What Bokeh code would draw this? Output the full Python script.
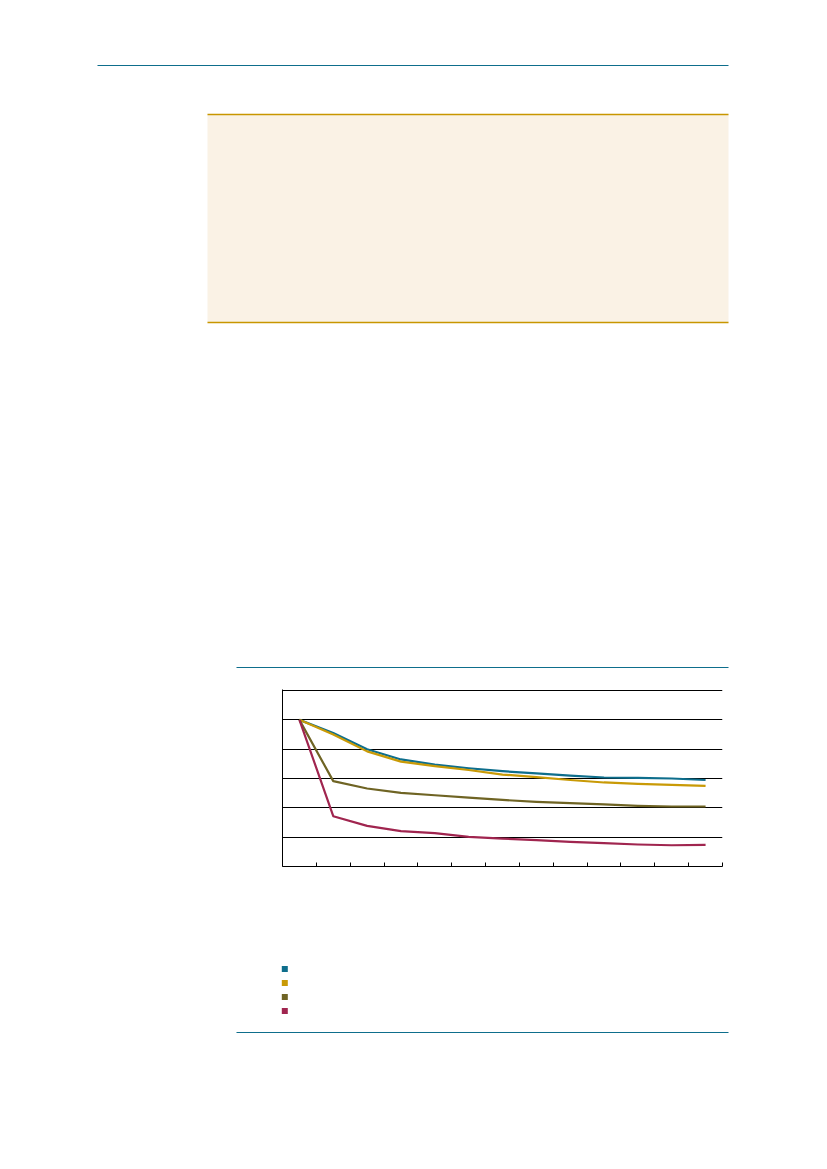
from bokeh.plotting import figure
from bokeh.layouts import column, row
from bokeh.models import Range1d, FixedTicker, CustomJSTickFormatter
from bokeh.embed import file_html
from bokeh.resources import INLINE

# ---------------- data ----------------
periods = list(range(1, 14))
series_names = ["Series A", "Series B", "Series C", "Series D"]
series_colors = ["#0E6E8C", "#C99A06", "#6F6424", "#A0254F"]
series_a = [100, 91, 80, 73, 69.5, 67, 65, 63.5, 62, 60.7, 60.5, 60, 59]
series_b = [100, 90, 78.5, 71.5, 68.5, 65.8, 62.7, 61, 59, 57.3, 56.4, 55.7, 55]
series_c = [100, 58.2, 53.2, 50.2, 48.6, 47, 45.4, 44.1, 43.2, 42.3, 41.4, 40.9, 40.9]
series_d = [100, 34.3, 27.7, 24.1, 22.7, 20.2, 19, 18, 16.8, 15.9, 15, 14.5, 14.7]
series_values = [series_a, series_b, series_c, series_d]
y_ticks = [0, 20, 40, 60, 80, 100, 120]

BLUE = "#0E6E8C"
GOLD = "#C89600"
BEIGE = "#FAF2E5"
W = 827


def blank_fig(h, y0, y1):
    f = figure(width=W, height=h, x_range=Range1d(0, W), y_range=Range1d(y1, y0),
               output_backend="svg", toolbar_location=None, min_border=0,
               outline_line_color=None, background_fill_color="white",
               border_fill_color="white")
    f.axis.visible = False
    f.grid.visible = False
    return f


# ---------------- top decoration (page y 0..672) ----------------
top = blank_fig(672, 0, 672)
top.segment(x0=[97], y0=[65], x1=[728], y1=[65], line_color=BLUE, line_width=1.2)
top.quad(left=[207], right=[728], top=[114], bottom=[322], fill_color=BEIGE, line_color=None)
top.segment(x0=[207, 207], y0=[114, 322], x1=[728, 728], y1=[114, 322],
            line_color=GOLD, line_width=1.3)
top.segment(x0=[236], y0=[667], x1=[728], y1=[667], line_color=BLUE, line_width=1.2)

# ---------------- chart (page y 672..880) ----------------
n = len(periods)
chart = figure(width=W, height=208, x_range=Range1d(0, n),
               y_range=Range1d(y_ticks[0], y_ticks[-1] + 0.7),
               output_backend="svg", toolbar_location=None,
               min_border_left=282, min_border_right=105, min_border_top=17, min_border_bottom=14,
               outline_line_color=None, background_fill_color="white", border_fill_color="white")
empty = CustomJSTickFormatter(code="return ''")
chart.xaxis.ticker = FixedTicker(ticks=list(range(n + 1)))
chart.xaxis.formatter = empty
chart.xaxis.major_tick_in = 4
chart.xaxis.major_tick_out = 0
chart.xaxis.minor_tick_line_color = None
chart.xaxis.axis_line_color = "black"
chart.xaxis.major_tick_line_color = "black"
chart.xaxis.major_label_standoff = 0
chart.yaxis.ticker = FixedTicker(ticks=y_ticks)
chart.yaxis.formatter = empty
chart.yaxis.major_tick_in = 0
chart.yaxis.major_tick_out = 0
chart.yaxis.minor_tick_line_color = None
chart.yaxis.axis_line_color = "black"
chart.yaxis.major_label_standoff = 0
chart.xgrid.visible = False
chart.ygrid.grid_line_color = "black"
chart.ygrid.grid_line_width = 1
chart.ygrid.ticker = FixedTicker(ticks=y_ticks)

xs = [p - 0.5 for p in periods]
for vals, col in zip(series_values, series_colors):
    chart.line(xs, vals, line_color=col, line_width=2.2, line_join="round")

# ---------------- legend & bottom decoration (page y 880..1160) ----------------
bot = blank_fig(280, 880, 1160)
leg_y = [968.5 + 14 * i for i in range(len(series_names))]
bot.scatter(x=[284.3] * len(series_names), y=leg_y, marker="square", size=6,
            fill_color=series_colors, line_color=None)
bot.segment(x0=[236], y0=[1032], x1=[728], y1=[1032], line_color=BLUE, line_width=1.2)

layout = column(top, row(chart), bot, spacing=0)
open("out.html", "w").write(file_html(layout, INLINE))
